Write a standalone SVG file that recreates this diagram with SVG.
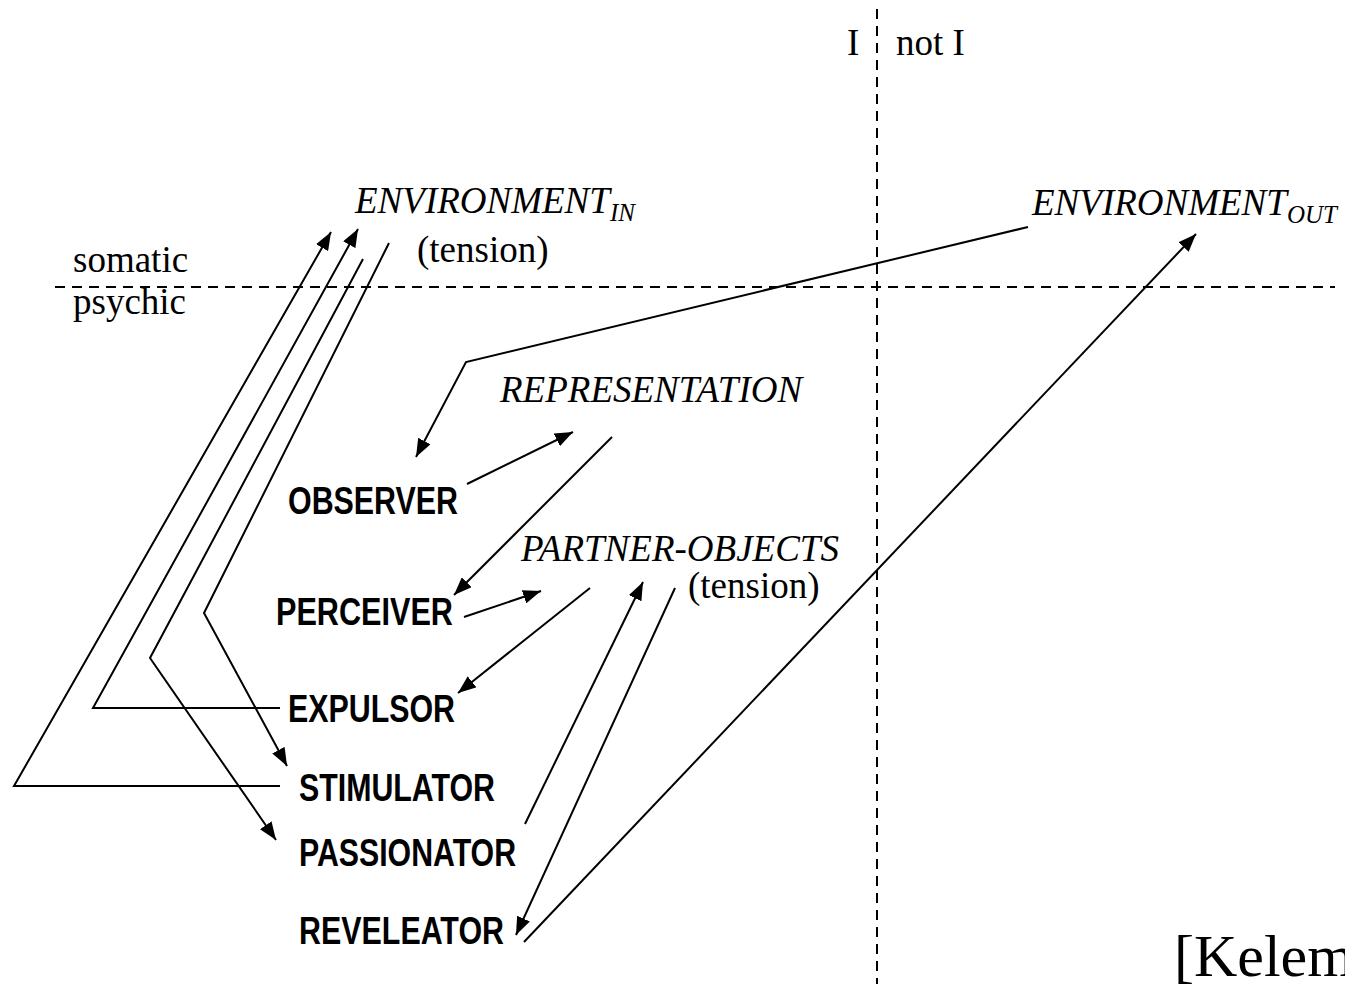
<svg xmlns="http://www.w3.org/2000/svg" width="1345" height="984" viewBox="0 0 1345 984">
  <style>
    .serif { font-family: "Liberation Serif", "Times New Roman", serif; font-size: 37px; fill: #000; }
    .ital { font-family: "Liberation Serif", "Times New Roman", serif; font-style: italic; font-size: 37px; fill: #000; }
    .sub { font-size: 25px; }
    .role { font-family: "Liberation Sans", Arial, sans-serif; font-weight: bold; font-size: 38px; fill: #000; }
    .axis { stroke: #000; stroke-width: 2; stroke-dasharray: 10 7; fill: none; }
    .conn { stroke: #000; stroke-width: 2; fill: none; }
    .arr { marker-end: url(#head); }
  </style>
  <defs>
    <marker id="head" markerUnits="userSpaceOnUse" markerWidth="19" markerHeight="14" refX="18" refY="7" orient="auto">
      <path d="M0,0 L18,7 L0,14 Z" fill="#000"/>
    </marker>
  </defs>

  <rect width="1345" height="984" fill="#fff"/>

  <!-- axes: I / not I and somatic / psychic -->
  <g id="axes">
    <line class="axis" x1="877" y1="9" x2="877" y2="984"/>
    <line class="axis" x1="55" y1="287" x2="1335" y2="287"/>
    <text class="serif" x="847" y="55">I</text>
    <text class="serif" x="896" y="55">not I</text>
    <text class="serif" x="73" y="272">somatic</text>
    <text class="serif" x="73" y="314">psychic</text>
  </g>

  <!-- connectors -->
  <g id="connectors">
    <polyline class="conn arr" points="280,786 14,786 331,232"/>
    <polyline class="conn arr" points="280,708 93,708 358,229"/>
    <polyline class="conn arr" points="363,259 150,658 276,840"/>
    <polyline class="conn arr" points="389,243 204,613 287,766"/>
    <polyline class="conn arr" points="1028,227 466,362 416,457"/>
    <line class="conn arr" x1="467" y1="484" x2="573" y2="432"/>
    <line class="conn arr" x1="612" y1="437" x2="454" y2="595"/>
    <line class="conn arr" x1="464" y1="617" x2="541" y2="591"/>
    <line class="conn arr" x1="590" y1="588" x2="458" y2="693"/>
    <line class="conn arr" x1="525" y1="824" x2="643" y2="582"/>
    <line class="conn arr" x1="675" y1="588" x2="516" y2="935"/>
    <line class="conn arr" x1="524" y1="942" x2="1196" y2="234"/>
  </g>

  <!-- places -->
  <g id="env-in">
    <text class="ital" x="355" y="213">ENVIRONMENT<tspan class="sub" dy="8">IN</tspan></text>
    <text class="serif" x="417" y="262">(tension)</text>
  </g>
  <g id="env-out">
    <text class="ital" x="1032" y="215">ENVIRONMENT<tspan class="sub" dy="8">OUT</tspan></text>
  </g>
  <g id="representation">
    <text class="ital" x="500" y="402">REPRESENTATION</text>
  </g>
  <g id="partner-objects">
    <text class="ital" x="521" y="561">PARTNER-OBJECTS</text>
    <text class="serif" x="688" y="598">(tension)</text>
  </g>

  <!-- roles -->
  <g id="observer"><text class="role" x="288" y="514" textLength="170" lengthAdjust="spacingAndGlyphs">OBSERVER</text></g>
  <g id="perceiver"><text class="role" x="276" y="625" textLength="177" lengthAdjust="spacingAndGlyphs">PERCEIVER</text></g>
  <g id="expulsor"><text class="role" x="288" y="722" textLength="167" lengthAdjust="spacingAndGlyphs">EXPULSOR</text></g>
  <g id="stimulator"><text class="role" x="299" y="801" textLength="196" lengthAdjust="spacingAndGlyphs">STIMULATOR</text></g>
  <g id="passionator"><text class="role" x="299" y="866" textLength="217" lengthAdjust="spacingAndGlyphs">PASSIONATOR</text></g>
  <g id="reveleator"><text class="role" x="299" y="944" textLength="205" lengthAdjust="spacingAndGlyphs">REVELEATOR</text></g>

  <!-- citation -->
  <g id="citation">
    <text class="serif" x="1174" y="976" style="font-size:60px">[Kelem</text>
  </g>
</svg>
